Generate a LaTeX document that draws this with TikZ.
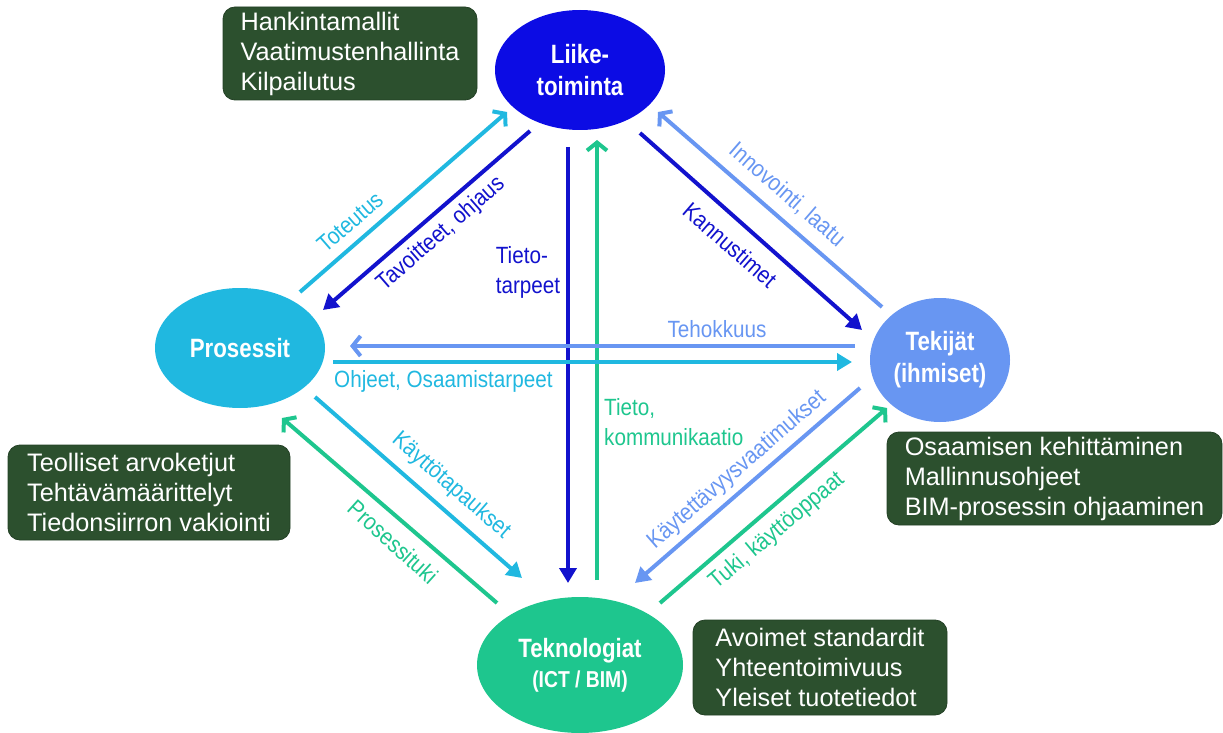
\documentclass[tikz,border=0pt]{standalone}
\usepackage{fontspec}
\setmainfont{Liberation Sans}
\newfontfamily\narrowfont[FakeStretch=0.88]{Liberation Sans}
\newfontfamily\narrowbold[FakeStretch=0.84]{Liberation Sans Bold}
\usetikzlibrary{arrows.meta,shapes.geometric}
\definecolor{cdark}{RGB}{18,18,205}
\definecolor{cliike}{RGB}{12,12,228}
\definecolor{ccyan}{RGB}{32,184,224}
\definecolor{clight}{RGB}{104,150,242}
\definecolor{cgreen}{RGB}{30,198,142}
\definecolor{cbox}{RGB}{44,80,46}
\tikzset{
  hub/.style={ellipse, inner sep=0pt, text=white, align=center,
    font=\narrowbold\fontsize{26.5}{32}\selectfont},
  infobox/.style={rounded corners=12pt, fill=cbox, draw=cbox!80!black, line width=0.8pt,
    text=white, align=left, inner sep=0pt,
    font=\fontsize{25.3}{30}\selectfont},
  conn/.style={line width=4pt},
  openhead/.style={-{Straight Barb[length=8pt,width=20pt,line width=4pt]}},
  fillhead/.style={-{Triangle[length=15pt,width=17pt]}},
  lab/.style={inner sep=1pt, font=\narrowfont\fontsize{23.5}{30}\selectfont},
}
\begin{document}
\begin{tikzpicture}[x=1pt,y=-1pt]
\useasboundingbox (0,0) rectangle (1223,733);

% hubs
\node[hub, fill=cliike, minimum width=170pt, minimum height=120pt] (L) at (580,70) {Liike-\\toiminta};
\node[hub, fill=ccyan, minimum width=170pt, minimum height=120pt] (P) at (240,348) {Prosessit};
\node[hub, fill=clight, minimum width=140pt, minimum height=124pt] (T) at (940,360) {Tekijät\\(ihmiset)};
\node[hub, fill=cgreen, minimum width=206pt, minimum height=136pt] (K) at (580,665)
  {Teknologiat\\[-2pt]{\fontsize{23}{28}\selectfont (ICT / BIM)}};

% info boxes
\node[infobox, minimum width=254pt, minimum height=93pt] (bL) at (350,53.5)
  {Hankintamallit\\Vaatimustenhallinta\\Kilpailutus};
\node[infobox, minimum width=282pt, minimum height=95pt] (bP) at (149,492.5)
  {Teolliset arvoketjut\\Tehtävämäärittelyt\\Tiedonsiirron vakiointi};
\node[infobox, minimum width=335pt, minimum height=93pt] (bT) at (1054.5,478.5)
  {Osaamisen kehittäminen\\Mallinnusohjeet\\BIM-prosessin ohjaaminen};
\node[infobox, minimum width=254pt, minimum height=95pt] (bK) at (820,667.5)
  {Avoimet standardit\\Yhteentoimivuus\\Yleiset tuotetiedot};

% connector end points
\coordinate (p1) at (300,292);  \coordinate (l1) at (507,112);
\coordinate (l2) at (530,131);  \coordinate (p2) at (323,310);
\coordinate (l3) at (568,147);  \coordinate (k3) at (568,583);
\coordinate (k4) at (597,580);  \coordinate (l4) at (597,140);
\coordinate (l5) at (640,133);  \coordinate (t5) at (862,330);
\coordinate (t6) at (882,307);  \coordinate (l6) at (658,112);
\coordinate (t7) at (855,346);  \coordinate (p7) at (350,346);
\coordinate (p8) at (333,362);  \coordinate (t8) at (852,362);
\coordinate (p9) at (315,397);  \coordinate (k9) at (522,578);
\coordinate (k10) at (497,603); \coordinate (p10) at (282,418);
\coordinate (t11) at (860,388); \coordinate (k11) at (635,583);
\coordinate (k12) at (660,603); \coordinate (t12) at (887,408);

% connectors
\draw[conn, ccyan, openhead] (p1) -- (l1);
\draw[conn, cdark, fillhead] (l2) -- (p2);
\draw[conn, cdark, fillhead] (l3) -- (k3);
\draw[conn, cgreen, openhead] (k4) -- (l4);
\draw[conn, cdark, fillhead] (l5) -- (t5);
\draw[conn, clight, openhead] (t6) -- (l6);
\draw[conn, clight, openhead] (t7) -- (p7);
\draw[conn, ccyan, fillhead] (p8) -- (t8);
\draw[conn, ccyan, fillhead] (p9) -- (k9);
\draw[conn, cgreen, openhead] (k10) -- (p10);
\draw[conn, clight, fillhead] (t11) -- (k11);
\draw[conn, cgreen, openhead] (k12) -- (t12);

% labels
\node[lab, text=ccyan, rotate=41] (n1) at (350,222) {Toteutus};
\node[lab, text=cdark, rotate=41] (n2) at (441,234) {Tavoitteet, ohjaus};
\node[lab, text=cdark, align=left] (n3) at (528,272) {Tieto-\\tarpeet};
\node[lab, text=cgreen, align=left, anchor=west] (n4) at (603,422) {Tieto,\\kommunikaatio};
\node[lab, text=cdark, rotate=-41] (n5) at (730,245) {Kannustimet};
\node[lab, text=clight, rotate=-41] (n6) at (787,195) {Innovointi, laatu};
\node[lab, text=clight] (n7) at (717,329) {Tehokkuus};
\node[lab, text=ccyan, anchor=west] (n8) at (333,381) {Ohjeet, Osaamistarpeet};
\node[lab, text=ccyan, rotate=-41] (n9) at (451,486) {Käyttötapaukset};
\node[lab, text=cgreen, rotate=-42] (n10) at (393,542) {Prosessituki};
\node[lab, text=clight, rotate=41] (n11) at (737,470) {Käytettävyysvaatimukset};
\node[lab, text=cgreen, rotate=40] (n12) at (777,531) {Tuki, käyttöoppaat};
\end{tikzpicture}
\end{document}
